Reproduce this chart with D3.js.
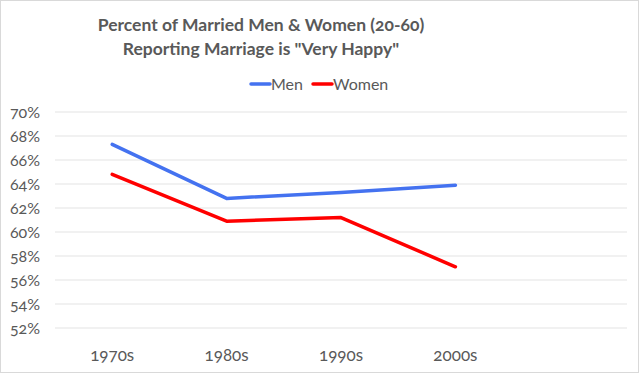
<!DOCTYPE html>
<html>
<head>
<meta charset="utf-8">
<script src="https://cdn.jsdelivr.net/npm/d3@7"></script>
<style>
  body { margin: 0; background: #fff; }
  svg { display: block; font-family: Lato, "Open Sans", sans-serif; font-feature-settings: "onum"; }
</style>
</head>
<body>
<div id="chart"></div>
<script>
let categories = ["1970s", "1980s", "1990s", "2000s", ""],
  men = [67.3, 62.8, 63.3, 63.9],
  women = [64.8, 60.9, 61.2, 57.1],
  yTicks = [52, 54, 56, 58, 60, 62, 64, 66, 68, 70]

let width = 640,
  height = 374,
  margin = { top: 112, right: 13, bottom: 46, left: 55 }

let svg = d3.select("#chart").append("svg")
  .attr("width", width)
  .attr("height", height)

// outer border like the spreadsheet chart area
svg.append("rect")
  .attr("x", 0.5).attr("y", 0.5)
  .attr("width", width - 2).attr("height", height - 2)
  .attr("fill", "#fff")
  .attr("stroke", "#d9d9d9")

let x = d3.scaleBand()
  .domain(categories)
  .range([margin.left, width - margin.right])

let y = d3.scaleLinear()
  .domain([52, 70])
  .range([height - margin.bottom, margin.top])

// gridlines
svg.append("g")
  .selectAll("line")
  .data(yTicks)
  .enter().append("line")
  .attr("x1", margin.left)
  .attr("x2", width - margin.right)
  .attr("y1", d => y(d))
  .attr("y2", d => y(d))
  .attr("stroke", "#e3e3e3")
  .attr("stroke-width", 1)

// y labels
svg.append("g")
  .selectAll("text")
  .data(yTicks)
  .enter().append("text")
  .attr("x", 40)
  .attr("y", d => y(d))
  .attr("dy", "0.35em")
  .attr("text-anchor", "end")
  .attr("fill", "#595959")
  .style("font-size", "16px")
  .text(d => d + "%")

// x labels
svg.append("g")
  .selectAll("text")
  .data(categories)
  .enter().append("text")
  .attr("x", d => x(d) + x.bandwidth() / 2)
  .attr("y", 355)
  .attr("dy", "0.35em")
  .attr("text-anchor", "middle")
  .attr("fill", "#595959")
  .style("font-size", "17px")
  .text(d => d)

let line = d3.line()
  .x((d, i) => x(categories[i]) + x.bandwidth() / 2)
  .y(d => y(d))

let series = [
  { name: "Men", values: men, color: "#4472f0" },
  { name: "Women", values: women, color: "#ff0000" }
]

svg.append("g")
  .selectAll("path")
  .data(series)
  .enter().append("path")
  .attr("d", d => line(d.values))
  .attr("fill", "none")
  .attr("stroke", d => d.color)
  .attr("stroke-width", 3.5)
  .attr("stroke-linejoin", "round")
  .attr("stroke-linecap", "round")

// title
let title = svg.append("text")
  .attr("x", 261)
  .attr("text-anchor", "middle")
  .attr("fill", "#595959")
  .style("font-size", "17.5px")
  .style("font-weight", "bold")
title.append("tspan").attr("x", 261).attr("y", 31).text("Percent of Married Men & Women (20-60)")
title.append("tspan").attr("x", 261).attr("y", 54.5).text("Reporting Marriage is \"Very Happy\"")

// legend
let legendX = [251, 313]
let legend = svg.append("g")
  .selectAll("g")
  .data(series)
  .enter().append("g")
  .attr("transform", (d, i) => "translate(" + legendX[i] + ",84)")

legend.append("line")
  .attr("x1", 0).attr("x2", 19)
  .attr("stroke", d => d.color)
  .attr("stroke-width", 3.5)
  .attr("stroke-linecap", "round")

legend.append("text")
  .attr("x", 20)
  .attr("dy", "0.35em")
  .attr("fill", "#595959")
  .style("font-size", "16px")
  .text(d => d.name)
</script>
</body>
</html>
